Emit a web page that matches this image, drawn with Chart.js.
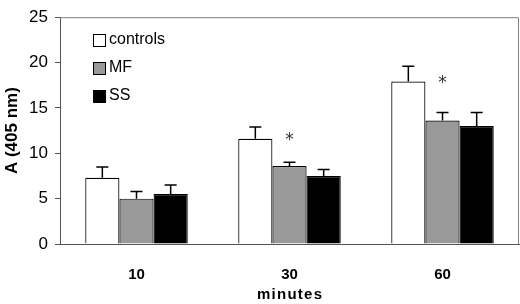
<!DOCTYPE html>
<html>
<head>
<meta charset="utf-8">
<script src="https://cdn.jsdelivr.net/npm/chart.js@4"></script>
<style>
  html, body { margin: 0; padding: 0; background: #fff; }
  #wrap { width: 520px; height: 304px; position: relative; }
</style>
</head>
<body>
<div id="wrap"><canvas id="chart"></canvas></div>
<script>
const categories = ['10', '30', '60'];
const seriesNames = ['controls', 'MF', 'SS'];
const controls = [7.3, 11.6, 17.9];
const mf = [5.0, 8.6, 13.6];
const ss = [5.5, 7.5, 13.0];
// upper end of each error bar (mean + SD)
const controlsErr = [8.5, 12.9, 19.6];
const mfErr = [5.8, 9.0, 14.5];
const ssErr = [6.5, 8.2, 14.5];
// significance marks drawn above the MF bars
const mfSignificant = [false, true, true];
const yTicks = [0, 5, 10, 15, 20, 25];

const fills = ['#ffffff', '#999999', '#000000'];
const FONT = '"Liberation Sans", Arial, sans-serif';

// error bars, asterisks, frame and the legend inside the plot
const extras = {
    id: 'extras',
    afterDatasetsDraw(chart) {
        const ctx = chart.ctx;
        const y = chart.scales.y;
        const area = chart.chartArea;
        const errs = [controlsErr, mfErr, ssErr];

        ctx.save();
        ctx.strokeStyle = '#000';
        ctx.lineWidth = 1.5;
        errs.forEach((err, di) => {
            const meta = chart.getDatasetMeta(di);
            meta.data.forEach((bar, i) => {
                const top = y.getPixelForValue(err[i]);
                const base = y.getPixelForValue(chart.data.datasets[di].data[i]);
                ctx.beginPath();
                ctx.moveTo(bar.x, base);
                ctx.lineTo(bar.x, top);
                ctx.moveTo(bar.x - 6, top);
                ctx.lineTo(bar.x + 6, top);
                ctx.stroke();
            });
        });

        // asterisks
        ctx.fillStyle = '#333';
        ctx.font = '17px "DejaVu Sans"';
        ctx.textAlign = 'center';
        ctx.textBaseline = 'middle';
        const mfMeta = chart.getDatasetMeta(1);
        mfSignificant.forEach((s, i) => {
            if (!s) return;
            const py = y.getPixelForValue(controls[i]);
            ctx.fillText('*', mfMeta.data[i].x, py + 2);
        });

        // top and right frame lines
        ctx.strokeStyle = '#808080';
        ctx.lineWidth = 1;
        ctx.beginPath();
        ctx.moveTo(area.left, area.top + 0.5);
        ctx.lineTo(area.right - 0.5, area.top + 0.5);
        ctx.lineTo(area.right - 0.5, area.bottom);
        ctx.stroke();

        // legend
        ctx.font = '16px ' + FONT;
        ctx.textAlign = 'left';
        ctx.textBaseline = 'middle';
        seriesNames.forEach((name, i) => {
            const ly = 40 + i * 28;
            const lx = 93;
            ctx.fillStyle = fills[i];
            ctx.fillRect(lx, ly - 6, 13, 13);
            ctx.strokeStyle = '#000';
            ctx.lineWidth = 1;
            ctx.strokeRect(lx + 0.5, ly - 5.5, 12, 12);
            ctx.fillStyle = '#000';
            ctx.fillText(name, lx + 16, ly);
        });
        ctx.restore();
    }
};

new Chart(document.getElementById('chart'), {
    type: 'bar',
    data: {
        labels: categories,
        datasets: [controls, mf, ss].map((d, i) => ({
            label: seriesNames[i],
            data: d,
            backgroundColor: fills[i],
            borderColor: '#000',
            borderWidth: 1.2,
            categoryPercentage: 0.67,
            barPercentage: 1.0
        }))
    },
    options: {
        responsive: true,
        maintainAspectRatio: false,
        animation: false,
        layout: { padding: { top: 9, right: 1, left: 0, bottom: 0 } },
        plugins: {
            legend: { display: false },
            tooltip: { enabled: false }
        },
        scales: {
            x: {
                grid: { display: false, drawTicks: false },
                border: { display: true, color: '#555', width: 1 },
                ticks: {
                    color: '#000',
                    padding: 22,
                    font: { family: FONT, size: 15, weight: 'bold' }
                },
                title: {
                    display: true,
                    text: 'm\u200ai\u200an\u200au\u200at\u200ae\u200as',
                    color: '#000',
                    padding: { top: 6, bottom: 0 },
                    font: { family: FONT, size: 15, weight: 'bold' }
                },
                afterFit(scale) { scale.height = 60; }
            },
            y: {
                min: 0,
                max: 25,
                afterBuildTicks(scale) { scale.ticks = yTicks.map(v => ({ value: v })); },
                grid: { display: true, drawOnChartArea: false, drawTicks: true, tickLength: 5, color: '#555' },
                border: { display: true, color: '#555', width: 1 },
                ticks: {
                    color: '#000',
                    padding: 7,
                    font: { family: FONT, size: 17 }
                },
                title: {
                    display: true,
                    text: 'A (405 nm)',
                    color: '#000',
                    padding: { top: 2, bottom: 2 },
                    font: { family: FONT, size: 17, weight: 'bold' }
                },
                afterFit(scale) { scale.width = 60; }
            }
        }
    },
    plugins: [extras]
});
</script>
</body>
</html>
